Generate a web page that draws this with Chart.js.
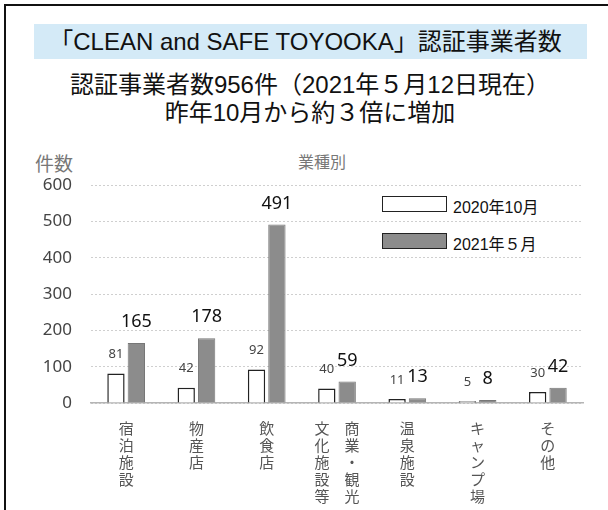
<!DOCTYPE html>
<html lang="ja">
<head>
  <meta charset="UTF-8">
  <title>CLEAN and SAFE TOYOOKA 認証事業者数</title>
  <script src="https://cdn.jsdelivr.net/npm/chart.js"></script>
  <style>
    body {
      margin: 0;
      background: #fff;
      font-family: "Liberation Sans", "Noto Sans CJK JP", sans-serif;
    }
    #page {
      position: relative;
      width: 608px;
      height: 510px;
      overflow: hidden;
    }
    #frame {
      position: absolute;
      left: 4px;
      top: 4px;
      width: 640px;
      height: 560px;
      border: 2px solid #111;
    }
    #titleBox {
      position: absolute;
      left: 34px;
      top: 24px;
      width: 543px;
      padding-right: 10px;
      height: 35px;
      background: #d4eaf7;
      text-align: center;
      font-size: 24px;
      line-height: 35px;
      color: #111;
      white-space: nowrap;
    }
    .sub {
      position: absolute;
      left: 0;
      width: 620px;
      text-align: center;
      font-size: 24px;
      line-height: 28px;
      color: #111;
      white-space: nowrap;
    }
    .note {
      position: absolute;
      color: #666;
      font-family: "Noto Sans CJK JP", sans-serif;
    }
    .legendItem {
      position: absolute;
      left: 382px;
      height: 20px;
      font-size: 16px;
      color: #111;
    }
    .legendItem span.box {
      position: absolute;
      left: 0;
      top: 1px;
      width: 63px;
      height: 14px;
      border: 1.5px solid #222;
    }
    .legendItem span.txt {
      position: absolute;
      left: 71px;
      top: -1px;
      white-space: nowrap;
    }
    #chartWrap {
      position: absolute;
      left: 0;
      top: 140px;
      width: 608px;
      height: 370px;
    }
  </style>
</head>
<body>
<div id="page">
  <div id="frame"></div>
  <div id="titleBox">「CLEAN and SAFE TOYOOKA」認証事業者数</div>
  <div class="sub" style="top:71px;">認証事業者数956件（2021年５月12日現在）</div>
  <div class="sub" style="top:99px;">昨年10月から約３倍に増加</div>
  <div class="note" style="left:35px; top:149px; font-size:19px; color:#777;">件数</div>
  <div class="note" style="left:298px; top:149px; font-size:16px; color:#777;">業種別</div>
  <div class="legendItem" style="top:195px;"><span class="box" id="box0"></span><span class="txt" id="txt0"></span></div>
  <div class="legendItem" style="top:232px;"><span class="box" id="box1"></span><span class="txt" id="txt1"></span></div>
  <div id="chartWrap"><canvas id="barChart"></canvas></div>
</div>

<script>
  // categories, written top to bottom (one line per character)
  const categories = [
    ['宿', '泊', '施', '設'],
    ['物', '産', '店'],
    ['飲', '食', '店'],
    ['文　商', '化　業', '施　・', '設　観', '等　光'],
    ['温', '泉', '施', '設'],
    ['キ', 'ャ', 'ン', 'プ', '場'],
    ['そ', 'の', '他']
  ];

  const seriesNames = ['2020年10月', '2021年５月'];
  const oct2020 = [81, 42, 92, 40, 11, 5, 30];
  const may2021 = [165, 178, 491, 59, 13, 8, 42];

  const yTicks = [0, 100, 200, 300, 400, 500, 600];

  const fills = ['#ffffff', '#8c8c8c'];
  const borders = ['#222222', '#777777'];

  // html legend
  seriesNames.forEach((name, i) => {
    document.getElementById('txt' + i).textContent = name;
    document.getElementById('box' + i).style.background = fills[i];
  });

  // value labels above the bars
  const valueLabels = {
    id: 'valueLabels',
    afterDatasetsDraw(chart) {
      const ctx = chart.ctx;
      ctx.save();
      ctx.textAlign = 'center';
      ctx.textBaseline = 'middle';
      chart.data.datasets.forEach((ds, di) => {
        const meta = chart.getDatasetMeta(di);
        ctx.font = di === 0 ? '13px "Noto Sans", sans-serif' : '18px "Noto Sans", sans-serif';
        ctx.fillStyle = di === 0 ? '#444' : '#111';
        meta.data.forEach((bar, i) => {
          ctx.fillText(ds.data[i], bar.x, bar.y - (di === 0 ? 19 : 21));
        });
      });
      ctx.restore();
    }
  };

  const ctx = document.getElementById('barChart').getContext('2d');
  const chart = new Chart(ctx, {
    type: 'bar',
    data: {
      labels: categories,
      datasets: [oct2020, may2021].map((vals, i) => ({
        label: seriesNames[i],
        data: vals,
        backgroundColor: fills[i],
        borderColor: borders[i],
        borderWidth: i === 0 ? 1.5 : 1,
        categoryPercentage: 0.58,
        barPercentage: 0.85
      }))
    },
    options: {
      responsive: true,
      maintainAspectRatio: false,
      animation: false,
      layout: {
        padding: { left: 0, right: 25, top: 45, bottom: 0 }
      },
      plugins: {
        legend: { display: false },
        tooltip: { enabled: false }
      },
      scales: {
        x: {
          grid: { display: false },
          border: { display: true, color: '#b5b5b5', width: 1.5 },
          ticks: {
            color: '#555',
            font: { family: '"Noto Sans CJK JP", sans-serif', size: 15, lineHeight: 1.13 },
            padding: 9,
            maxRotation: 0,
            autoSkip: false
          },
          afterFit: s => { s.height = 107; }
        },
        y: {
          min: 0,
          max: 600,
          afterBuildTicks: s => { s.ticks = yTicks.map(v => ({ value: v })); },
          grid: { color: '#cfcfcf', lineWidth: 1, drawTicks: false },
          border: { display: false, dash: [2, 2] },
          ticks: {
            color: '#444',
            font: { family: '"Noto Sans", sans-serif', size: 17 },
            padding: 19
          },
          afterFit: s => { s.width = 91; }
        }
      }
    },
    plugins: [valueLabels]
  });
</script>
</body>
</html>
